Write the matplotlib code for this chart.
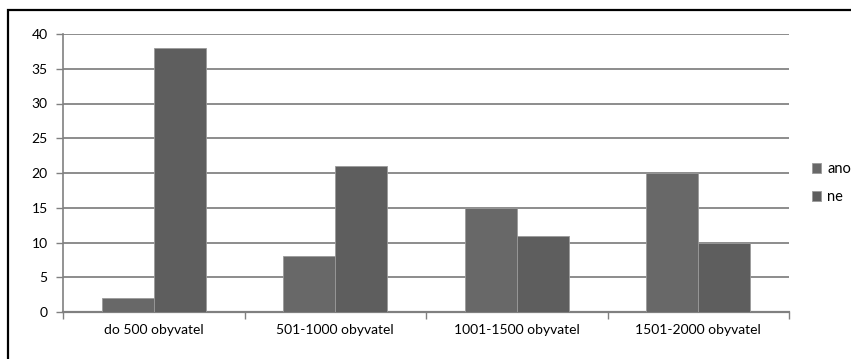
import numpy as np
import matplotlib.pyplot as plt
from matplotlib.patches import Rectangle

categories = ['do 500 obyvatel', '501-1000 obyvatel', '1001-1500 obyvatel', '1501-2000 obyvatel']
ano = [2, 8, 15, 20]
ne = [38, 21, 11, 10]

plt.rcParams['font.family'] = ['Lato', 'DejaVu Sans']

fig = plt.figure(figsize=(8.51, 3.59), dpi=100)
ax = fig.add_axes([63/851, 1-312/359, (789-63)/851, (312-34)/359])

x = np.arange(len(categories))
w = 0.287
ax.bar(x - w/2, ano, w, color='#686868', edgecolor='#9a9a9a', linewidth=0.6, label='ano', zorder=3)
ax.bar(x + w/2, ne, w, color='#5e5e5e', edgecolor='#9a9a9a', linewidth=0.6, label='ne', zorder=3)

ax.set_xlim(-0.5, len(categories) - 0.5)
ax.set_ylim(0, 40)
ax.set_yticks(range(0, 41, 5))
ax.set_xticks(x)
ax.set_xticklabels(categories, fontsize=10)
ax.set_xticks(np.arange(-0.5, len(categories), 1), minor=True)
ax.tick_params(axis='x', which='major', length=0, pad=9)
ax.tick_params(axis='x', which='minor', length=5, color='#808080', width=1)
ax.tick_params(axis='y', length=5, color='#808080', width=1, labelsize=10, pad=6)

ax.yaxis.grid(True, color='#8c8c8c', linewidth=1.4, zorder=0)
for side in ['top', 'right']:
    ax.spines[side].set_visible(False)
ax.spines['left'].set_color('#808080')
ax.spines['left'].set_linewidth(1.2)
ax.spines['bottom'].set_color('#808080')
ax.spines['bottom'].set_linewidth(1.6)

fig.legend(loc='upper left', bbox_to_anchor=(812/851, 1-162/359), frameon=False,
           fontsize=10.5, handlelength=0.65, handleheight=0.65, handletextpad=0.4,
           labelspacing=0.95, borderaxespad=0, borderpad=0)

# outer chart frame, running past the right and bottom edges
fig.patches.append(Rectangle((8/851, -0.1), 1.0, 1 - 10/359 + 0.1, transform=fig.transFigure,
                             fill=False, edgecolor='black', linewidth=1.6))

fig.savefig('out.png', dpi=100)
